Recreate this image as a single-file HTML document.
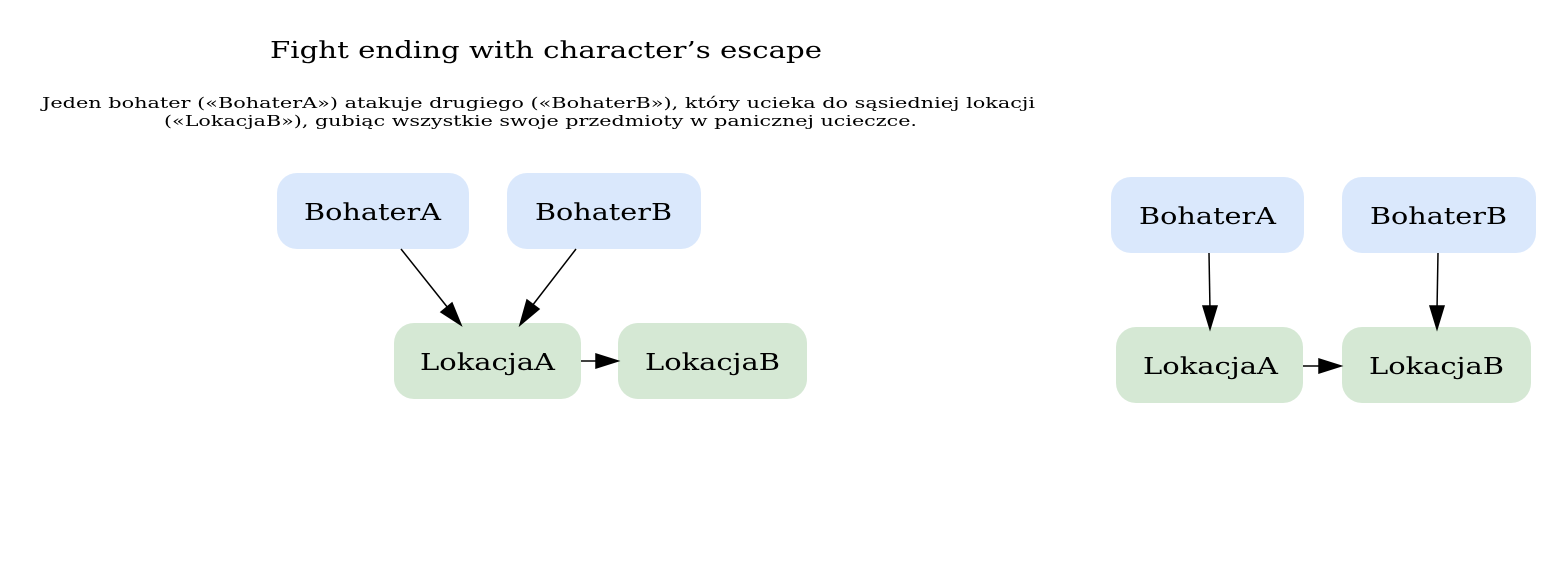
<!DOCTYPE html>
<html><head><meta charset="utf-8"><style>
body{margin:0;background:#fff;width:1565px;height:581px;overflow:hidden}
</style></head><body>
<svg width="1565" height="581" xmlns="http://www.w3.org/2000/svg" font-family="'DejaVu Serif','Liberation Serif',serif">
<text x="270" y="58" font-size="23" textLength="552" lengthAdjust="spacingAndGlyphs">Fight ending with character’s escape</text>
<text x="42" y="108" font-size="14.5" textLength="993" lengthAdjust="spacingAndGlyphs">Jeden bohater («BohaterA») atakuje drugiego («BohaterB»), który ucieka do sąsiedniej lokacji</text>
<text x="164" y="126" font-size="14.5" textLength="753" lengthAdjust="spacingAndGlyphs">(«LokacjaB»), gubiąc wszystkie swoje przedmioty w panicznej ucieczce.</text>
<g font-size="23">
<rect x="277" y="173" width="192" height="76" rx="20" fill="#dae8fc"/><text x="304" y="220" textLength="137" lengthAdjust="spacingAndGlyphs">BohaterA</text>
<rect x="507" y="173" width="194" height="76" rx="20" fill="#dae8fc"/><text x="535" y="220" textLength="137" lengthAdjust="spacingAndGlyphs">BohaterB</text>
<rect x="394" y="323" width="187" height="76" rx="20" fill="#d5e8d4"/><text x="420" y="370" textLength="135" lengthAdjust="spacingAndGlyphs">LokacjaA</text>
<rect x="618" y="323" width="189" height="76" rx="20" fill="#d5e8d4"/><text x="645" y="370" textLength="135" lengthAdjust="spacingAndGlyphs">LokacjaB</text>
<rect x="1111" y="177" width="193" height="76" rx="20" fill="#dae8fc"/><text x="1139" y="224" textLength="137" lengthAdjust="spacingAndGlyphs">BohaterA</text>
<rect x="1342" y="177" width="194" height="76" rx="20" fill="#dae8fc"/><text x="1370" y="224" textLength="137" lengthAdjust="spacingAndGlyphs">BohaterB</text>
<rect x="1116" y="327" width="187" height="76" rx="20" fill="#d5e8d4"/><text x="1143" y="374" textLength="135" lengthAdjust="spacingAndGlyphs">LokacjaA</text>
<rect x="1342" y="327" width="189" height="76" rx="20" fill="#d5e8d4"/><text x="1369" y="374" textLength="135" lengthAdjust="spacingAndGlyphs">LokacjaB</text>
</g>
<g stroke="#000" stroke-width="1.5">
<line x1="401" y1="249" x2="448" y2="308"/><polygon points="461,325 441,312 452,303" fill="#000"/>
<line x1="576" y1="249" x2="532" y2="306"/><polygon points="520,325 527,300 539,309" fill="#000"/>
<line x1="581" y1="361" x2="600" y2="361"/><polygon points="618,361 596,354 596,368" fill="#000"/>
<line x1="1209" y1="253" x2="1210" y2="310"/><polygon points="1210,329 1203,306 1217,306" fill="#000"/>
<line x1="1438" y1="253" x2="1437" y2="310"/><polygon points="1437,329 1430,306 1444,306" fill="#000"/>
<line x1="1303" y1="366" x2="1322" y2="366"/><polygon points="1341,366 1319,359 1319,373" fill="#000"/>
</g>
</svg>
</body></html>
